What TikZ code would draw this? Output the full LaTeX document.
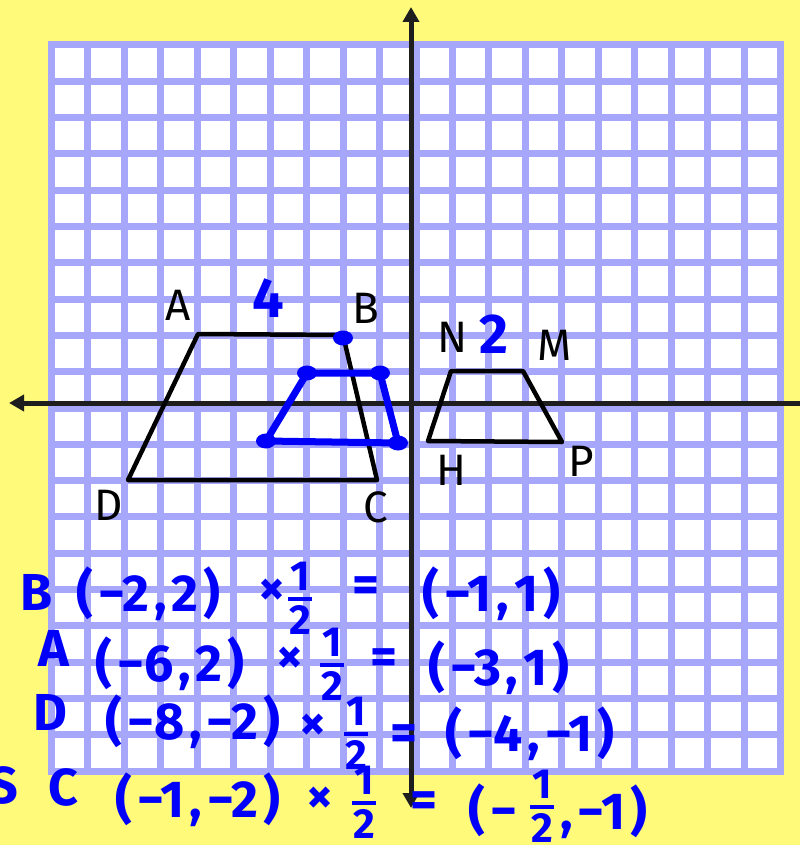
\documentclass[tikz,border=0pt]{standalone}
\usepackage{fontspec}
\setmainfont{Fira Sans}
\usetikzlibrary{arrows.meta}
\definecolor{bgyellow}{RGB}{255,250,122}
\definecolor{gridblue}{RGB}{166,166,250}
\definecolor{axisgray}{RGB}{30,30,30}
\definecolor{pen}{RGB}{0,0,250}
\newcommand{\gp}{\hspace{5pt}}
\newcommand{\hlf}{1\\[-31pt]\rule{24pt}{4pt}\\[-9pt]2}
\tikzset{arr/.tip={Triangle[length=15pt,width=16pt]}}
\begin{document}
\begin{tikzpicture}[x=1pt,y=-1pt,
  gridline/.style={draw=gridblue,line width=7pt,line cap=rect},
  axisline/.style={draw=axisgray,line width=5pt},
  shapeline/.style={draw=black,line width=4.5pt,line join=round,line cap=round},
  penline/.style={draw=pen,line width=7pt,line join=round,line cap=round},
  lab/.style={font=\fontsize{44}{48}\selectfont,text=black,inner sep=0pt},
  pennum/.style={font=\fontsize{56}{60}\selectfont\bfseries,text=pen,inner sep=0pt},
  eq/.style={font=\fontsize{52}{56}\selectfont\bfseries,text=pen,inner sep=0pt},
  frac/.style={font=\fontsize{42}{42}\selectfont\bfseries,text=pen,inner sep=0pt,align=center}
]
\clip (0,0) rectangle (800,845);
\fill[bgyellow] (0,0) rectangle (800,845);
\fill[white] (51.5,45) rectangle (780.5,771);
\foreach \i in {0,...,20}{
  \draw[gridline] ({51.5+36.45*\i},45) -- ({51.5+36.45*\i},771);
  \draw[gridline] (51.5,{45+36.3*\i}) -- (780.5,{45+36.3*\i});
}
% axes
\coordinate (yt) at (411,7);
\coordinate (yb) at (411,808);
\coordinate (xl) at (9,403);
\coordinate (xr) at (800,403);
\draw[axisline,arr-arr] (yb) -- (yt);
\draw[axisline,arr-] (xl) -- (xr);
% trapezoid ABCD
\coordinate (A) at (198,334);
\coordinate (B) at (343,335);
\coordinate (C) at (377,480);
\coordinate (D) at (128,480);
\draw[shapeline] (A) -- (B) -- (C) -- (D) -- cycle;
% trapezoid NMPH
\coordinate (N) at (451,371);
\coordinate (M) at (523,371);
\coordinate (P) at (562,442);
\coordinate (H) at (428,441);
\draw[shapeline] (N) -- (M) -- (P) -- (H) -- cycle;
% blue image
\coordinate (b1) at (307,373);
\coordinate (b2) at (380,373);
\coordinate (b3) at (398,443);
\coordinate (b4) at (266,441);
\draw[penline] (b1) -- (b2) -- (b3) -- (b4) -- cycle;
\coordinate (bd) at (343,338);
\foreach \p in {b1,b2,b3,b4,bd} \fill[pen] (\p) ellipse (10 and 7.5);
% labels
\node[lab] (lA) at (178,305) {A};
\node[lab] (lB) at (366,308) {B};
\node[lab] (lC) at (376,507) {C};
\node[lab] (lD) at (109,505) {D};
\node[lab] (lN) at (453,337) {N};
\node[lab] (lM) at (555,345) {M};
\node[lab] (lH) at (451,470) {H};
\node[lab] (lP) at (581,461) {P};
\node[pennum] (l4) at (268,298) {4};
\node[pennum] (l2) at (494,334) {2};
% line 1
\node[eq,anchor=west] (e1l) at (20,592) {B};
\node[eq,anchor=west] (e1a) at (76,594) {(\gp−2\gp,\gp2\gp)};
\node[eq] (e1x) at (272,592) {×};
\node[frac] (e1f) at (300,598) {\hlf};
\node[eq] (e1e) at (366,590) {=};
\node[eq,anchor=west] (e1b) at (422,594) {(\gp−1\gp,\gp1\gp)};
% line 2
\node[eq,anchor=west] (e2l) at (38,648) {A};
\node[eq,anchor=west] (e2a) at (95,664) {(\gp−6\gp,\gp2\gp)};
\node[eq] (e2x) at (290,660) {×};
\node[frac] (e2f) at (332,664) {\hlf};
\node[eq] (e2e) at (384,662) {=};
\node[eq,anchor=west] (e2b) at (428,668) {(\gp−3\gp,\gp1\gp)};
% line 3
\node[eq,anchor=west] (e3l) at (33,712) {D};
\node[eq,anchor=west] (e3a) at (105,722) {(\gp−8\gp,\gp−2\gp)};
\node[eq] (e3x) at (313,727) {×};
\node[frac] (e3f) at (356,733) {\hlf};
\node[eq] (e3e) at (404,738) {=};
\node[eq,anchor=west] (e3b) at (445,734) {(\gp−4\gp,\gp−1\gp)};
% line 4
\node[eq,anchor=west] (e4s) at (-12,785) {S};
\node[eq,anchor=west] (e4l) at (48,787) {C};
\node[eq,anchor=west] (e4a) at (115,800) {(\gp−1\gp,\gp−2\gp)};
\node[eq] (e4x) at (320,800) {×};
\node[frac] (e4f) at (364,802) {\hlf};
\node[eq] (e4e) at (424,805) {=};
\node[eq,anchor=west] (e4b) at (468,810) {(\gp−};
\node[frac] (e4f2) at (542,806) {\hlf};
\node[eq,anchor=west] (e4c) at (560,812) {,\gp−1\gp)};
\end{tikzpicture}
\end{document}
